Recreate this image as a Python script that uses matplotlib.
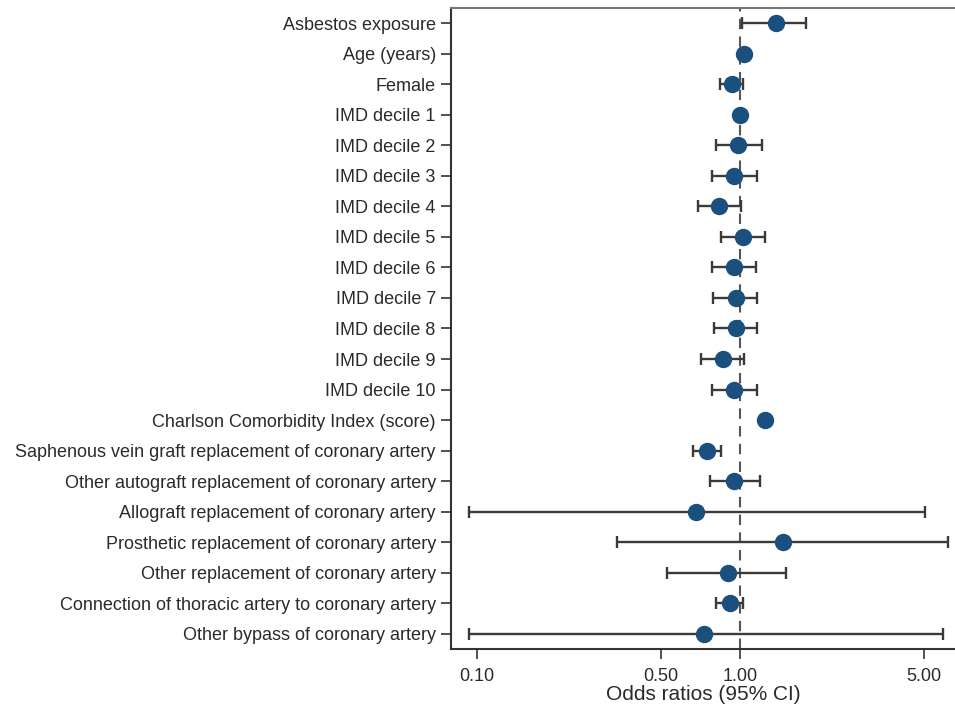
import matplotlib.pyplot as plt
import numpy as np

# Forest plot data (odds ratios with 95% CI)
labels = ["Asbestos exposure", "Age (years)", "Female",
          "IMD decile 1", "IMD decile 2", "IMD decile 3", "IMD decile 4",
          "IMD decile 5", "IMD decile 6", "IMD decile 7", "IMD decile 8",
          "IMD decile 9", "IMD decile 10",
          "Charlson Comorbidity Index (score)",
          "Saphenous vein graft replacement of coronary artery",
          "Other autograft replacement of coronary artery",
          "Allograft replacement of coronary artery",
          "Prosthetic replacement of coronary artery",
          "Other replacement of coronary artery",
          "Connection of thoracic artery to coronary artery",
          "Other bypass of coronary artery"]
odds = [1.37, 1.04, 0.93, 1.00, 0.98, 0.95, 0.83, 1.03, 0.95, 0.97, 0.97,
        0.86, 0.95, 1.24, 0.75, 0.95, 0.68, 1.46, 0.90, 0.92, 0.73]
ci_low = [1.02, 1.03, 0.84, 1.00, 0.81, 0.78, 0.69, 0.85, 0.78, 0.79, 0.80,
          0.71, 0.78, 1.23, 0.66, 0.77, 0.093, 0.34, 0.53, 0.81, 0.093]
ci_high = [1.78, 1.05, 1.03, 1.00, 1.21, 1.16, 1.01, 1.24, 1.15, 1.16, 1.16,
           1.04, 1.16, 1.25, 0.85, 1.19, 5.05, 6.17, 1.50, 1.03, 5.9]

plt.rcParams['font.family'] = ['Liberation Sans', 'DejaVu Sans']

fig = plt.figure(figsize=(9.55, 7.13), dpi=100)
ax = fig.add_axes([0.4723, 0.0898, 0.5277, 0.899])

y = np.arange(len(labels), 0, -1)
odds = np.array(odds)
err = np.array([odds - np.array(ci_low), np.array(ci_high) - odds])

ax.axvline(1.0, color='#555555', linestyle=(0, (5, 3.5)), linewidth=1.5, zorder=1)
ax.errorbar(odds, y, xerr=err, fmt='none', ecolor='#3a3a3a', elinewidth=1.7,
            capsize=4.5, capthick=1.7, zorder=2)
ax.plot(odds, y, 'o', color='#1b4f7e', markersize=11.5, zorder=3)

ax.set_xscale('log')
ax.set_xlim(0.0797, 6.57)
ax.set_ylim(0.5, len(labels) + 0.5)
ax.set_xticks([0.1, 0.5, 1.0, 5.0])
ax.set_xticklabels(["0.10", "0.50", "1.00", "5.00"])
ax.minorticks_off()
ax.set_yticks(y)
ax.set_yticklabels(labels)
ax.tick_params(axis='y', labelsize=13, length=7, width=1.2,
               color='#333333', labelcolor='#2a2a2a', pad=4)
ax.tick_params(axis='x', labelsize=13, length=7, width=1.2,
               color='#333333', labelcolor='#2a2a2a', pad=7)
ax.set_xlabel("Odds ratios (95% CI)", fontsize=15, color='#2a2a2a', labelpad=0)

for side in ['left', 'bottom']:
    ax.spines[side].set_color('#333333')
    ax.spines[side].set_linewidth(1.5)
ax.spines['top'].set_color('#777777')
ax.spines['top'].set_linewidth(1.5)
ax.spines['right'].set_visible(False)

fig.savefig('out.png', dpi=100)
